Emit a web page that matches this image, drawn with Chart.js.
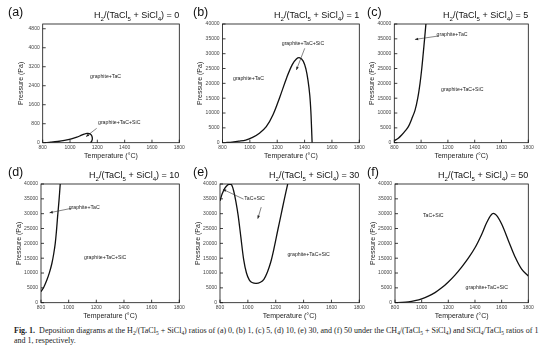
<!DOCTYPE html>
<html><head><meta charset="utf-8">
<script src="https://cdn.jsdelivr.net/npm/chart.js@4.4.1/dist/chart.umd.min.js"></script>
<style>
body{margin:0;background:#fff;width:554px;height:355px;overflow:hidden;position:relative;font-family:"Liberation Sans",Arial,sans-serif;}
canvas{position:absolute;}
.ttl{position:absolute;font-size:9px;line-height:9px;white-space:nowrap;color:#111;text-align:right;}
sub{font-size:0.68em;position:relative;top:0.35em;vertical-align:baseline;line-height:0;}
.lbl{position:absolute;font-size:12.5px;line-height:12.5px;color:#111;}
.cap{position:absolute;font-family:"Liberation Serif","Times New Roman",serif;white-space:nowrap;color:#222;line-height:1;}
</style></head><body>
<script>
// ---- data ----
const tempTicks = [800, 1000, 1200, 1400, 1600, 1800];
const presTicksA = [0, 800, 1600, 2400, 3200, 4000, 4800];
const presTicks = [0, 5000, 10000, 15000, 20000, 25000, 30000, 35000, 40000];
const ratios = [0, 1, 5, 10, 30, 50];
const letters = ['(a)', '(b)', '(c)', '(d)', '(e)', '(f)'];

const tempA = [815, 860, 910, 960, 1010, 1050, 1080, 1105, 1125, 1142, 1155, 1162, 1163, 1158, 1150];
const presA = [0, 20, 50, 95, 160, 235, 305, 365, 395, 385, 330, 240, 140, 55, 0];

const tempB = [820, 870, 920, 970, 1020, 1070, 1120, 1170, 1220, 1270, 1310, 1340, 1365, 1390, 1410, 1425, 1438, 1446, 1451, 1455];
const presB = [0, 200, 500, 900, 1800, 3200, 5400, 9500, 15500, 22000, 26300, 28200, 28600, 27500, 24800, 21000, 16000, 10500, 5000, 0];

const tempC = [800, 830, 855, 880, 905, 930, 955, 975, 992, 1005, 1016, 1026, 1036];
const presC = [700, 1500, 2600, 3900, 5400, 8000, 11000, 15000, 20000, 25000, 30100, 35000, 40000];

const tempD = [800, 820, 843, 862, 879, 892, 903, 912, 920, 930, 939];
const presD = [3700, 5200, 7700, 10300, 13300, 16500, 20000, 24300, 29000, 34300, 40000];

const tempE = [800, 815, 835, 855, 870, 885, 900, 915, 930, 950, 970, 990, 1010, 1030, 1060, 1090, 1115, 1140, 1165, 1190, 1215, 1240, 1260, 1286];
const presE = [34300, 36600, 38600, 39700, 40000, 39600, 37300, 33800, 29500, 22000, 14500, 10000, 7700, 6800, 6500, 6900, 7900, 10300, 13800, 18800, 24500, 30000, 34500, 40000];

const tempF = [800, 850, 900, 950, 1000, 1050, 1100, 1150, 1200, 1250, 1300, 1350, 1400, 1450, 1490, 1530, 1560, 1600, 1650, 1700, 1750, 1800];
const presF = [0, 100, 300, 700, 1300, 2200, 3400, 5000, 7000, 9300, 12000, 15000, 18500, 23000, 27200, 30000, 29500, 26500, 21000, 15500, 11300, 9000];

// region labels [text, temperature, pressure]
const labelsA = [['graphite+TaC', 1260, 2800], ['graphite+TaC+SiC', 1360, 830]];
const labelsB = [['graphite+TaC', 990, 21700], ['graphite+TaC+SiC', 1388, 33500]];
const labelsC = [['graphite+TaC', 1231, 36600], ['graphite+TaC+SiC', 1307, 18000]];
const labelsD = [['graphite+TaC', 1112, 32100], ['graphite+TaC+SiC', 1264, 15300]];
const labelsE = [['TaC+SiC', 1048, 35200], ['graphite+TaC+SiC', 1436, 16100]];
const labelsF = [['TaC+SiC', 1087, 29200], ['graphite+TaC+SiC', 1488, 5200]];
// arrows [fromT, fromP, toT, toP]
const arrowsA = [[1195, 605, 1117, 255]];
const arrowsB = [[1401, 31800, 1340, 24500]];
const arrowsC = [[1128, 35950, 954, 34800]];
const arrowsD = [[1019, 31800, 862, 30300]];
const arrowsE = [[969, 34900, 821, 38200], [1096, 32200, 1071, 28300]];
const arrowsF = [];

// ---- layout ----
const panels = [
  {L: 42.7, T: 24, R: 179.3, B: 142.7, ymax: 5000, yt: presTicksA, t: tempA, p: presA, lab: labelsA, arr: arrowsA, lx: 8},
  {L: 222.5, T: 24, R: 359.3, B: 142.7, ymax: 40000, yt: presTicks, t: tempB, p: presB, lab: labelsB, arr: arrowsB, lx: 193},
  {L: 394.3, T: 24, R: 528.3, B: 142.7, ymax: 40000, yt: presTicks, t: tempC, p: presC, lab: labelsC, arr: arrowsC, lx: 367},
  {L: 41, T: 184, R: 179.3, B: 302.7, ymax: 40000, yt: presTicks, t: tempD, p: presD, lab: labelsD, arr: arrowsD, lx: 8},
  {L: 220, T: 184, R: 359.3, B: 302.7, ymax: 40000, yt: presTicks, t: tempE, p: presE, lab: labelsE, arr: arrowsE, lx: 193},
  {L: 395, T: 184, R: 528.3, B: 302.7, ymax: 40000, yt: presTicks, t: tempF, p: presF, lab: labelsF, arr: arrowsF, lx: 367}
];

const framePlugin = {
  id: 'frame',
  afterDatasetsDraw(chart, args, opts) {
    const {ctx, chartArea: a, scales: {x, y}} = chart;
    ctx.save();
    ctx.strokeStyle = '#111';
    ctx.lineWidth = 0.8;
    ctx.strokeRect(a.left, a.top, a.right - a.left, a.bottom - a.top);
    ctx.beginPath();
    x.ticks.forEach(t => { const px = x.getPixelForValue(t.value); ctx.moveTo(px, a.bottom); ctx.lineTo(px, a.bottom - 3); });
    y.ticks.forEach(t => { const py = y.getPixelForValue(t.value); ctx.moveTo(a.left, py); ctx.lineTo(a.left + 3, py); });
    ctx.stroke();
    // annotations
    ctx.fillStyle = '#222';
    ctx.font = '5.2px "Liberation Sans", Arial, sans-serif';
    ctx.textAlign = 'center';
    ctx.textBaseline = 'middle';
    (opts.labels || []).forEach(l => ctx.fillText(l[0], x.getPixelForValue(l[1]), y.getPixelForValue(l[2])));
    ctx.strokeStyle = '#333';
    ctx.fillStyle = '#222';
    ctx.lineWidth = 0.6;
    (opts.arrows || []).forEach(ar => {
      const x1 = x.getPixelForValue(ar[0]), y1 = y.getPixelForValue(ar[1]);
      const x2 = x.getPixelForValue(ar[2]), y2 = y.getPixelForValue(ar[3]);
      const ang = Math.atan2(y2 - y1, x2 - x1);
      ctx.beginPath(); ctx.moveTo(x1, y1); ctx.lineTo(x2, y2); ctx.stroke();
      ctx.beginPath();
      ctx.moveTo(x2, y2);
      ctx.lineTo(x2 - 3.2 * Math.cos(ang) + 1.3 * Math.sin(ang), y2 - 3.2 * Math.sin(ang) - 1.3 * Math.cos(ang));
      ctx.lineTo(x2 - 3.2 * Math.cos(ang) - 1.3 * Math.sin(ang), y2 - 3.2 * Math.sin(ang) + 1.3 * Math.cos(ang));
      ctx.closePath(); ctx.fill();
    });
    ctx.restore();
  }
};

const FONT = '"Liberation Sans", Arial, sans-serif';

panels.forEach((pn, i) => {
  const cl = Math.round(pn.L - 27.2), ct = Math.round(pn.T - 6);
  const yW = pn.L - cl, padT = pn.T - ct, padR = 8;
  const W = Math.ceil(pn.R - cl + padR), H = Math.ceil(pn.B - ct + 17.5);
  const padRr = W - (pn.R - cl);
  const cv = document.createElement('canvas');
  cv.width = W; cv.height = H;
  cv.style.left = cl + 'px'; cv.style.top = ct + 'px';
  cv.style.width = W + 'px'; cv.style.height = H + 'px';
  document.body.appendChild(cv);
  const xHr = H - (pn.B - ct);

  new Chart(cv, {
    type: 'scatter',
    data: {datasets: [{
      data: pn.t.map((t, k) => ({x: t, y: pn.p[k]})),
      showLine: true, borderColor: '#111', borderWidth: 1.3, pointRadius: 0, tension: 0.35, fill: false
    }]},
    options: {
      responsive: false, animation: false, devicePixelRatio: 1,
      layout: {padding: {top: padT, right: padRr, left: 0, bottom: 0}},
      plugins: {legend: {display: false}, tooltip: {enabled: false}, frame: {labels: pn.lab, arrows: pn.arr}},
      scales: {
        x: {
          type: 'linear', min: 800, max: 1800,
          afterBuildTicks: s => { s.ticks = tempTicks.map(v => ({value: v})); },
          afterFit: s => { s.height = xHr; },
          grid: {display: false, drawTicks: false}, border: {display: false},
          ticks: {font: {size: 5, family: FONT}, color: '#444', padding: 2.2, maxRotation: 0, autoSkip: false, callback: v => String(v)},
          title: {display: true, text: 'Temperature (°C)', font: {size: 7, family: FONT}, color: '#222', padding: {top: 0, bottom: 1}}
        },
        y: {
          type: 'linear', min: 0, max: pn.ymax,
          afterBuildTicks: s => { s.ticks = pn.yt.map(v => ({value: v})); },
          afterFit: s => { s.width = yW; },
          grid: {display: false, drawTicks: false}, border: {display: false},
          ticks: {font: {size: 5, family: FONT}, color: '#444', padding: 3, autoSkip: false, callback: v => String(v)},
          title: {display: true, text: 'Pressure (Pa)', font: {size: 7, family: FONT}, color: '#222', padding: {top: 1, bottom: 0}}
        }
      }
    },
    plugins: [framePlugin]
  });

  const tt = document.createElement('div');
  tt.className = 'ttl';
  tt.innerHTML = 'H<sub>2</sub>/(TaCl<sub>5</sub> + SiCl<sub>4</sub>) = ' + ratios[i];
  tt.style.right = (554 - pn.R) + 'px';
  tt.style.top = (pn.T - 5 - 7.6) + 'px';
  document.body.appendChild(tt);

  const lb = document.createElement('div');
  lb.className = 'lbl';
  lb.textContent = letters[i];
  lb.style.left = pn.lx + 'px';
  lb.style.top = (pn.T - 7 - 10.6) + 'px';
  document.body.appendChild(lb);
});

// caption
const c1 = document.createElement('div');
c1.className = 'cap';
c1.innerHTML = '<b>Fig. 1.</b>&nbsp; Deposition diagrams at the H<sub>2</sub>/(TaCl<sub>5</sub> + SiCl<sub>4</sub>) ratios of (a) 0, (b) 1, (c) 5, (d) 10, (e) 30, and (f) 50 under the CH<sub>4</sub>/(TaCl<sub>5</sub> + SiCl<sub>4</sub>) and SiCl<sub>4</sub>/TaCl<sub>5</sub> ratios of 1';
const c2 = document.createElement('div');
c2.className = 'cap';
c2.textContent = 'and 1, respectively.';
[c1, c2].forEach(c => { c.style.left = '14px'; c.style.fontSize = '7px'; document.body.appendChild(c); });
const w = c1.getBoundingClientRect().width;
const fs = 7 * 525 / w;
[c1, c2].forEach(c => c.style.fontSize = fs + 'px');
c1.style.top = (334 - 0.8375 * fs) + 'px';
c2.style.top = (343.5 - 0.8375 * fs) + 'px';
</script>
</body></html>
